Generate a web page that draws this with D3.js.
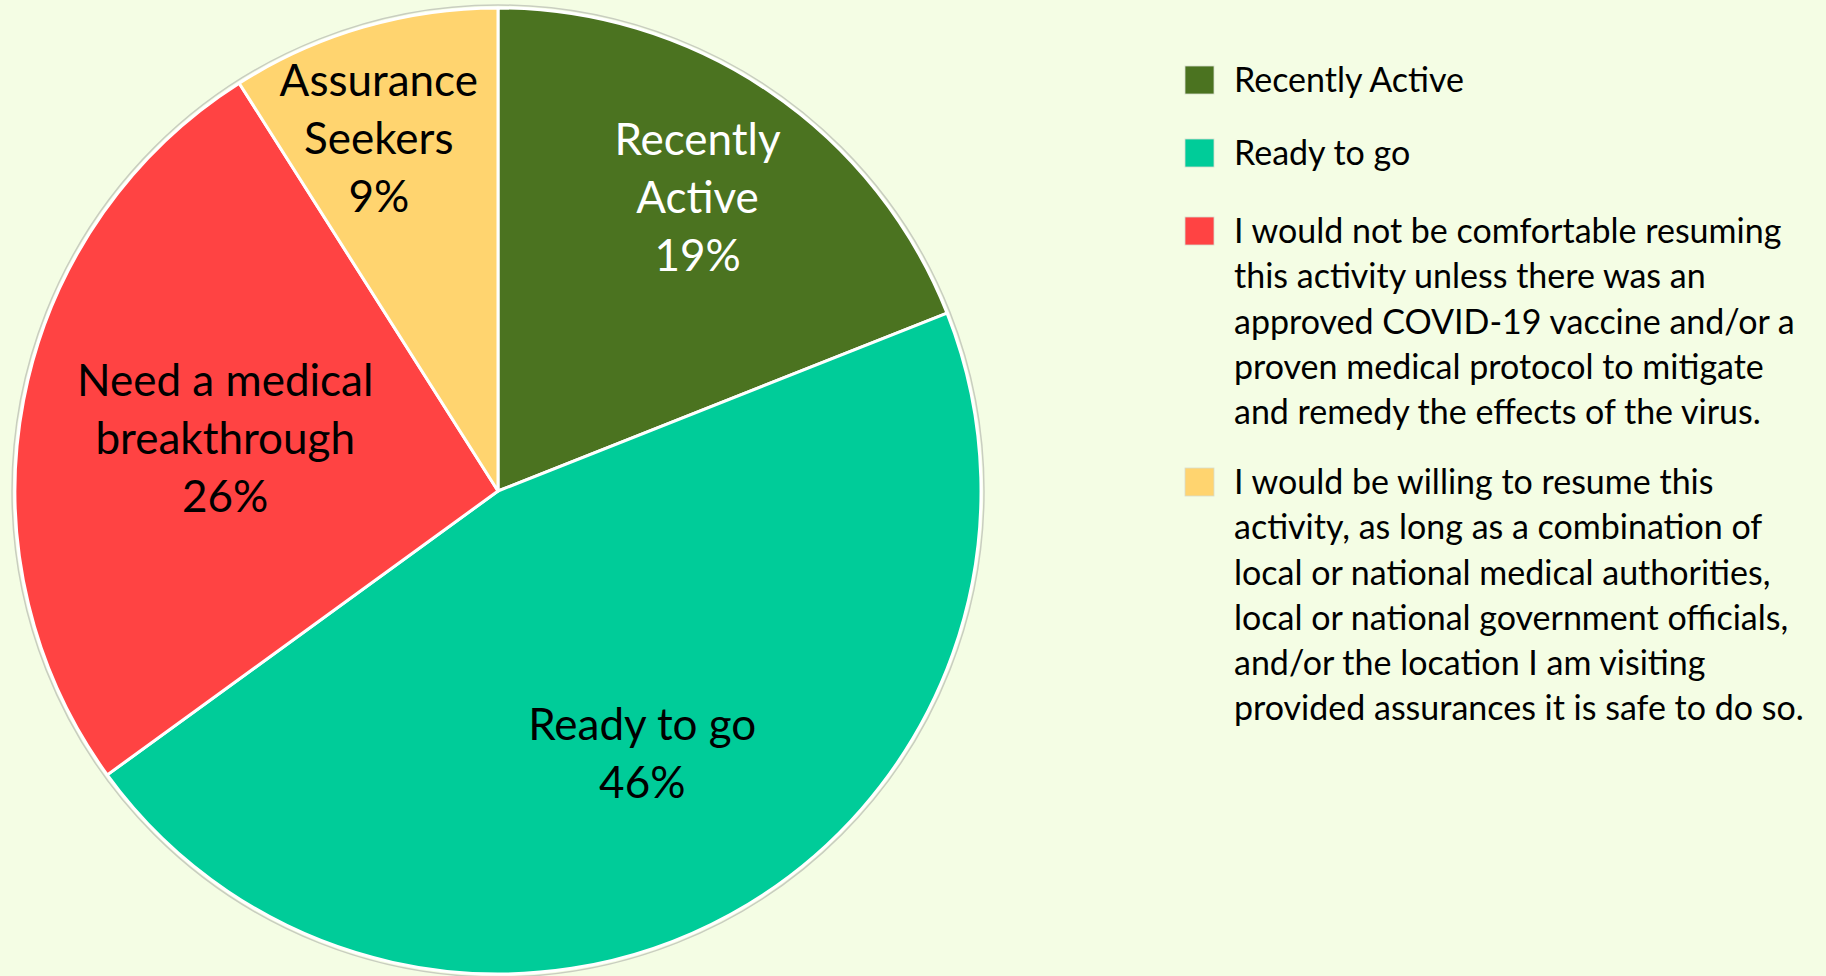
<!DOCTYPE html>
<html>
<head>
<meta charset="utf-8">
<script src="https://cdn.jsdelivr.net/npm/d3@7"></script>
<style>
  body { margin: 0; background: #F4FDE4; }
  svg { display: block; }
  text { font-family: Lato, "Open Sans", sans-serif; }
</style>
</head>
<body>
<div id="chart"></div>
<script>
// data
var categories = ["Recently Active", "Ready to go", "Need a medical breakthrough", "Assurance Seekers"];
var values = [19, 46, 26, 9];
var sliceLabels = [["Recently", "Active"], ["Ready to go"], ["Need a medical", "breakthrough"], ["Assurance", "Seekers"]];
var legendLabels = [
  ["Recently Active"],
  ["Ready to go"],
  ["I would not be comfortable resuming", "this activity unless there was an", "approved COVID-19 vaccine and/or a", "proven medical protocol to mitigate", "and remedy the effects of the virus."],
  ["I would be willing to resume this", "activity, as long as a combination of", "local or national medical authorities,", "local or national government officials,", "and/or the location I am visiting", "provided assurances it is safe to do so."]
];
var colors = ["#4B7320", "#00CC99", "#FF4343", "#FFD46F"];
var labelColors = ["#ffffff", "#000000", "#000000", "#000000"];

var svgWidth = 1826;
var svgHeight = 976;
var cx = 498, cy = 491, radius = 483;
// label placement per slice: share of the radius, and angle nudge in degrees
var labelR = [0.735, 0.62, 0.575, 0.77];
var labelTurn = [0, 0, 0, -2.5];

var svg = d3.select("#chart")
  .append("svg")
  .attr("width", svgWidth)
  .attr("height", svgHeight);

svg.append("rect")
  .attr("width", svgWidth)
  .attr("height", svgHeight)
  .attr("fill", "#F4FDE4");

var pieGroup = svg.append("g")
  .attr("transform", `translate(${cx}, ${cy})`);

var pie = d3.pie().sort(null).value(d => d);
var arcs = pie(values);
var arc = d3.arc().innerRadius(0).outerRadius(radius);

// faint outline around the pie
pieGroup.append("circle")
  .attr("r", radius + 3)
  .attr("fill", "none")
  .attr("stroke", "#c9cec0")
  .attr("stroke-width", 1.5);

pieGroup.selectAll("path")
  .data(arcs)
  .enter()
  .append("path")
  .attr("d", arc)
  .attr("fill", (d, i) => colors[i])
  .attr("stroke", "#ffffff")
  .attr("stroke-width", 3)
  .attr("stroke-linejoin", "round");

// slice labels
var lineH = 58;
pieGroup.selectAll("text.slice")
  .data(arcs)
  .enter()
  .append("text")
  .attr("class", "slice")
  .attr("text-anchor", "middle")
  .attr("font-size", "44px")
  .attr("fill", (d, i) => labelColors[i])
  .each(function(d, i) {
    var r = radius * labelR[i];
    var a = (d.startAngle + d.endAngle) / 2 + labelTurn[i] * Math.PI / 180;
    var x = r * Math.sin(a);
    var y = -r * Math.cos(a);
    var lines = sliceLabels[i].concat([d.data + "%"]);
    var top = y - (lines.length - 1) * lineH / 2;
    var t = d3.select(this);
    lines.forEach(function(l, j) {
      t.append("tspan")
        .attr("x", x)
        .attr("y", top + j * lineH)
        .attr("dy", "0.35em")
        .text(l);
    });
  });

// legend
var legendX = 1185, textX = 1234;
var legendRowY = [80, 153, 231, 482];
var legendLineH = 45.3;
var legend = svg.append("g").attr("class", "legend");

legendLabels.forEach(function(lines, i) {
  var y0 = legendRowY[i];
  legend.append("rect")
    .attr("x", legendX)
    .attr("y", y0 - 14)
    .attr("width", 29)
    .attr("height", 28)
    .attr("fill", colors[i])
    .attr("stroke", "#d8dccd")
    .attr("stroke-width", 0.8);
  var t = legend.append("text")
    .attr("font-size", "34px")
    .attr("fill", "#000000");
  lines.forEach(function(l, j) {
    t.append("tspan")
      .attr("x", textX)
      .attr("y", y0 + j * legendLineH)
      .attr("dy", "0.35em")
      .text(l);
  });
});
</script>
</body>
</html>
